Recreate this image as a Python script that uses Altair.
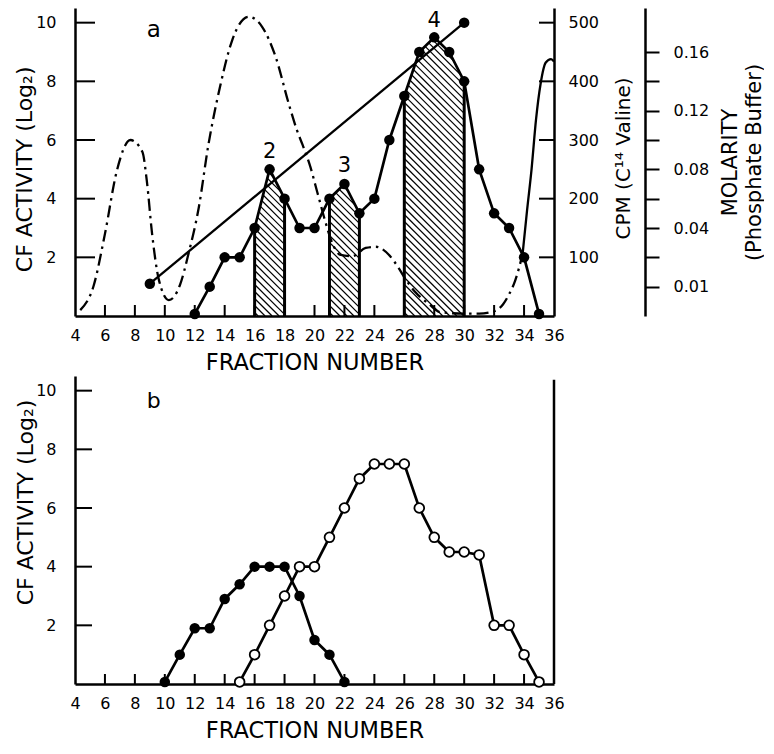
import altair as alt
import numpy as np
import pandas as pd

FONT = "DejaVu Sans"
INK = "black"

# ---------------- data : panel a ----------------
frac_a = list(range(12, 36))
cf_a = [0.07, 1, 2, 2, 3, 5, 4, 3, 3, 4, 4.5, 3.5, 4, 6, 7.5, 9, 9.5, 9, 8, 5, 3.5, 3, 2, 0.07]

grad_frac = [9, 30]
grad_val = [1.1, 10]

cpm_dd_frac = [4.35, 5.25, 6.0, 6.8, 7.7, 8.5, 8.8, 9.15, 9.6, 10.27, 11.0, 11.6, 12.27, 12.9,
               13.7, 14.5, 15.6, 16.5, 17.4, 18.3, 18.85, 19.2, 19.74, 20.07, 20.4, 20.7, 21.19,
               21.75, 22.53, 23.42, 24.09, 24.98, 25.54, 26.1, 26.76, 27.66, 28.33, 29.0, 30.0,
               31.0, 32.0, 32.6, 33.0, 33.4, 33.9]
cpm_dd_val = [10, 52, 140, 248, 300, 280, 230, 140, 62, 27, 52, 108, 185, 290,
              392, 470, 510, 493, 442, 360, 315, 292, 253, 222, 191, 163, 124,
              104, 102, 116, 118, 104, 85, 62, 40, 20, 7, 5, 4,
              4, 8, 20, 37, 60, 105]
cpm_solid_frac = [33.9, 34.2, 34.5, 34.8, 35.1, 35.45, 35.8, 36.0]
cpm_solid_val = [105, 180, 250, 335, 395, 432, 438, 434]

shaded_regions = [(16, 18), (21, 23), (26, 30)]
peak_labels = ["2", "3", "4"]
peak_label_x = [17, 22, 28]
peak_label_y = [5.6, 5.1, 10.05]

x_ticks = list(range(4, 37, 2))
x_inner_ticks = list(range(6, 35, 2))
y_ticks = [2, 4, 6, 8, 10]
cpm_ticks = [100, 200, 300, 400, 500]
mol_tick_pos = [1, 2, 3, 4, 5, 6, 7, 8, 9]
mol_tick_labels = ["0.01", "", "0.04", "", "0.08", "", "0.12", "", "0.16"]

Y_TITLE = "CF ACTIVITY (Log₂)"

# ---------------- data : panel b ----------------
frac_b_filled = list(range(10, 23))
cf_b_filled = [0.07, 1, 1.9, 1.9, 2.9, 3.4, 4, 4, 4, 3, 1.5, 1.0, 0.07]
frac_b_open = list(range(15, 36))
cf_b_open = [0.07, 1, 2, 3, 4, 4, 5, 6, 7, 7.5, 7.5, 7.5, 6, 5, 4.5, 4.5, 4.4, 2, 2, 1, 0.07]

# ---------------- geometry / style ----------------
W = 479
H = 308
XMIN, XMAX = 4, 36
YMAX = 10.5
CPM_MAX = 525
SX = W / (XMAX - XMIN)
SY = H / YMAX

xscale = alt.Scale(domain=[XMIN, XMAX], nice=False, zero=False)
yscale = alt.Scale(domain=[0, YMAX], nice=False, zero=False)
cpmscale = alt.Scale(domain=[0, CPM_MAX], nice=False, zero=False)


def x_axis():
    return alt.Axis(values=x_ticks, format="d", title="FRACTION NUMBER", titleFontSize=22.5,
                    titleBaseline="alphabetic", titleY=53, ticks=False, tickSize=0,
                    domainWidth=2.5, labelPadding=11, labelFlush=False, labelOverlap=False,
                    labelFontSize=16)


def y_axis_left(with_title, title_y=0):
    if with_title:
        return alt.Axis(values=y_ticks, format="d", title=Y_TITLE, titleFontSize=22,
                        titleAngle=270, titleBaseline="alphabetic", titleAlign="center",
                        titleX=-43, titleY=title_y, ticks=False, tickSize=0, domainWidth=2.5,
                        labelPadding=19, labelFontSize=16, orient="left")
    return alt.Axis(values=y_ticks, format="d", title=None, ticks=False, tickSize=0,
                    domainWidth=2.5, labelPadding=19, labelFontSize=16, orient="left")


def X(field):
    return alt.X(field, type="quantitative", scale=xscale, axis=x_axis())


def YA(field):
    return alt.Y(field, type="quantitative", scale=yscale, axis=y_axis_left(False))


TY_B = 126


def YB(field):
    return alt.Y(field, type="quantitative", scale=yscale, axis=y_axis_left(True, TY_B))


cpm_axis = alt.Axis(orient="right", values=cpm_ticks, format="d", title="CPM (C¹⁴ Valine)",
                    titleFontSize=20, titleAngle=270, titleBaseline="alphabetic",
                    titleAlign="center", titleX=75, titleY=150, ticks=False, tickSize=0,
                    domainWidth=2.5, labelPadding=14, labelFontSize=16)


def YC(field):
    return alt.Y(field, type="quantitative", scale=cpmscale, axis=cpm_axis)


mol_expr = " : ".join(
    f"datum.value == {p} ? '{l}'" for p, l in zip(mol_tick_pos, mol_tick_labels)
) + " : ''"
mol_axis = alt.Axis(orient="right", offset=91, values=mol_tick_pos, labelExpr=mol_expr,
                    title=["MOLARITY", "(Phosphate Buffer)"], titleFontSize=21,
                    titleLineHeight=24, titleAngle=270, titleBaseline="alphabetic",
                    titleAlign="center", titleX=91, titleY=154, ticks=True, tickSize=14,
                    tickWidth=2, domainWidth=2.5, labelPadding=14, labelFontSize=16)

# ---------------- derived tables : panel a ----------------
df_cf_a = pd.DataFrame({"x": frac_a, "y": cf_a})
df_grad = pd.DataFrame({"x": grad_frac, "y": grad_val})
df_dd = pd.DataFrame({"x": cpm_dd_frac, "y": cpm_dd_val})
df_solid = pd.DataFrame({"x": cpm_solid_frac, "y": cpm_solid_val})
df_peaks = pd.DataFrame({"x": peak_label_x, "y": peak_label_y, "t": peak_labels})


def cf_at(x):
    return np.interp(x, frac_a, cf_a)


HATCH_STEP = 7.0
hatch_rows = []
edge_rows = []
for a0, a1 in shaded_regions:
    xs = np.linspace(a0, a1, 1201)
    top = cf_at(xs)
    c_min = (a0 - XMIN) * SX
    c_max = (a1 - XMIN) * SX + top.max() * SY
    for c in np.arange(c_min + HATCH_STEP * 0.5, c_max, HATCH_STEP):
        yl = (c - (xs - XMIN) * SX) / SY
        ok = np.flatnonzero((yl >= 0) & (yl <= top))
        if ok.size < 2:
            continue
        for run in np.split(ok, np.where(np.diff(ok) > 1)[0] + 1):
            if run.size >= 2:
                hatch_rows.append({"x": xs[run[0]], "y": yl[run[0]],
                                   "x2": xs[run[-1]], "y2": yl[run[-1]]})
    for e in (a0, a1):
        edge_rows.append({"x": e, "y": 0.0, "y2": float(cf_at(e))})
df_hatch = pd.DataFrame(hatch_rows)
df_edges = pd.DataFrame(edge_rows)

df_xt_a = pd.DataFrame({"x": x_inner_ticks, "y": 0.0, "y2": 11 / SY})
df_yt_a = pd.DataFrame({"y": y_ticks, "x": float(XMIN), "x2": XMIN + 20 / SX})
df_ct = pd.DataFrame({"y": cpm_ticks, "x": XMAX - 15 / SX, "x2": float(XMAX)})
df_mol = pd.DataFrame({"y": mol_tick_pos})
# left title of panel a, centred on the 0-10 activity range, 43 px left of the axis
df_title_a = pd.DataFrame({"x": [XMIN - 43 / SX], "y": [5.0], "t": [Y_TITLE]})

hatch = alt.Chart(df_hatch).mark_rule(color=INK, strokeWidth=1.2).encode(
    x=X("x"), x2="x2", y=YA("y"), y2="y2")
edges = alt.Chart(df_edges).mark_rule(color=INK, strokeWidth=3).encode(
    x=X("x"), y=YA("y"), y2="y2")
cf_line = alt.Chart(df_cf_a).mark_line(color=INK, strokeWidth=2.7).encode(
    x=X("x"), y=YA("y"))
cf_pts = alt.Chart(df_cf_a).mark_circle(color=INK, size=110, opacity=1).encode(
    x=X("x"), y=YA("y"))
grad_line = alt.Chart(df_grad).mark_line(color=INK, strokeWidth=2.3).encode(
    x=X("x"), y=YA("y"))
grad_pts = alt.Chart(df_grad).mark_circle(color=INK, size=110, opacity=1).encode(
    x=X("x"), y=YA("y"))
xt_a = alt.Chart(df_xt_a).mark_rule(color=INK, strokeWidth=2).encode(
    x=X("x"), y=YA("y"), y2="y2")
yt_a = alt.Chart(df_yt_a).mark_rule(color=INK, strokeWidth=2).encode(
    x=X("x"), x2="x2", y=YA("y"))
peaks = alt.Chart(df_peaks).mark_text(font=FONT, fontSize=21, color=INK, baseline="middle",
                                      align="center").encode(
    x=X("x"), y=YA("y"), text="t")
lab_a = alt.Chart(pd.DataFrame({"x": [9.26], "y": [9.75], "t": ["a"]})).mark_text(
    font=FONT, fontSize=23, color=INK, baseline="middle", align="center").encode(
    x=X("x"), y=YA("y"), text="t")
title_a = alt.Chart(df_title_a).mark_text(
    font=FONT, fontSize=22, color=INK, angle=270, baseline="alphabetic", align="center").encode(
    x=X("x"), y=YA("y"), text="t")

left_a = alt.layer(hatch, edges, cf_line, grad_line, cf_pts, grad_pts, xt_a, yt_a, peaks,
                   lab_a, title_a)

dd = alt.Chart(df_dd).mark_line(color=INK, strokeWidth=2.3, strokeDash=[12, 5, 2.5, 5],
                                interpolate="monotone").encode(x=X("x"), y=YC("y"))
solid = alt.Chart(df_solid).mark_line(color=INK, strokeWidth=2.3,
                                      interpolate="monotone").encode(x=X("x"), y=YC("y"))
ct = alt.Chart(df_ct).mark_rule(color=INK, strokeWidth=2).encode(
    x=X("x"), x2="x2", y=YC("y"))
cpm_layer = alt.layer(dd, solid, ct)

mol_layer = alt.Chart(df_mol).mark_point(opacity=0).encode(
    y=alt.Y("y:Q", scale=yscale, axis=mol_axis))

panel_a = alt.layer(left_a, cpm_layer, mol_layer).resolve_scale(y="independent").properties(
    width=W, height=H)

# ---------------- panel b ----------------
df_bf = pd.DataFrame({"x": frac_b_filled, "y": cf_b_filled})
df_bo = pd.DataFrame({"x": frac_b_open, "y": cf_b_open})
df_xt_b = pd.DataFrame({"x": x_inner_ticks, "y": 0.0, "y2": 10 / SY})
df_yt_b = pd.DataFrame({"y": y_ticks, "x": float(XMIN), "x2": XMIN + 17 / SX})
df_frame_b = pd.DataFrame({"x": [float(XMAX)], "y": [0.0], "y2": [10.37]})

bf_line = alt.Chart(df_bf).mark_line(color=INK, strokeWidth=2.7).encode(x=X("x"), y=YB("y"))
bo_line = alt.Chart(df_bo).mark_line(color=INK, strokeWidth=2.7).encode(x=X("x"), y=YB("y"))
bf_pts = alt.Chart(df_bf).mark_circle(color=INK, size=110, opacity=1).encode(
    x=X("x"), y=YB("y"))
bo_pts = alt.Chart(df_bo).mark_point(filled=True, fill="white", stroke=INK, strokeWidth=1.8,
                                     size=95, opacity=1).encode(x=X("x"), y=YB("y"))
xt_b = alt.Chart(df_xt_b).mark_rule(color=INK, strokeWidth=2).encode(
    x=X("x"), y=YB("y"), y2="y2")
yt_b = alt.Chart(df_yt_b).mark_rule(color=INK, strokeWidth=2).encode(
    x=X("x"), x2="x2", y=YB("y"))
frame_b = alt.Chart(df_frame_b).mark_rule(color=INK, strokeWidth=2.5).encode(
    x=X("x"), y=YB("y"), y2="y2")
lab_b = alt.Chart(pd.DataFrame({"x": [9.26], "y": [9.64], "t": ["b"]})).mark_text(
    font=FONT, fontSize=22, color=INK, baseline="middle", align="center").encode(
    x=X("x"), y=YB("y"), text="t")

panel_b = alt.layer(bf_line, bo_line, bf_pts, bo_pts, xt_b, yt_b, frame_b, lab_b).properties(
    width=W, height=H)

chart = alt.vconcat(panel_a, panel_b, spacing=2).properties(
    padding={"left": 5, "top": 0, "right": 0, "bottom": 0}, background="white"
).configure_view(stroke=None).configure_axis(
    labelFont=FONT, titleFont=FONT, labelColor=INK, titleColor=INK, domainColor=INK,
    tickColor=INK, grid=False, titleFontWeight="normal", labelFontWeight="normal"
)

chart.save("out.html", embed_options={"renderer": "svg", "actions": False})
